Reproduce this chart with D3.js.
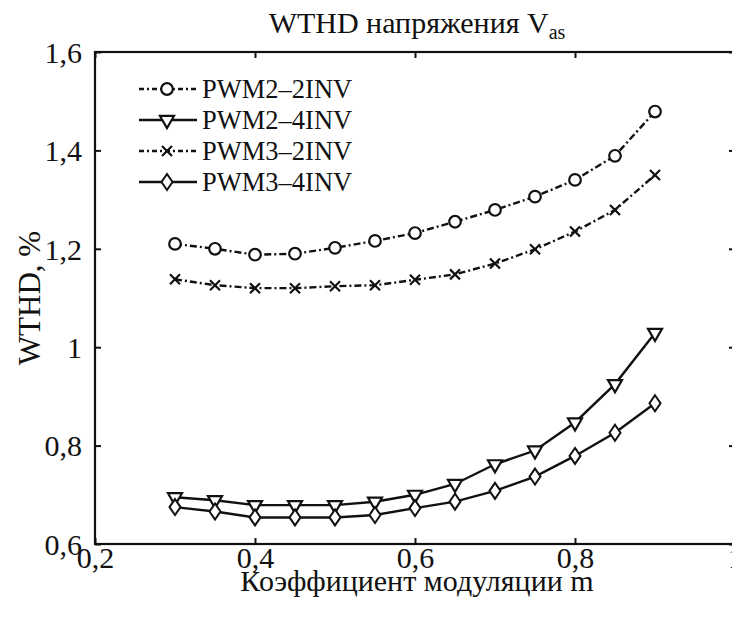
<!DOCTYPE html>
<html>
<head>
<meta charset="utf-8">
<script src="https://cdn.jsdelivr.net/npm/d3@7"></script>
<style>
  html, body { margin: 0; padding: 0; background: #fff; }
  svg { display: block; }
  svg text { font-family: 'Liberation Serif', 'DejaVu Serif', serif; fill: #111; }
</style>
</head>
<body>
<svg id="chart" width="732" height="621"></svg>
<script>
// Modulation index values (x axis)
const modulation = [0.3, 0.35, 0.4, 0.45, 0.5, 0.55, 0.6, 0.65, 0.7, 0.75, 0.8, 0.85, 0.9];

// WTHD of phase voltage, % — one array per scheme
const pwm2_2inv = [1.210, 1.200, 1.188, 1.190, 1.202, 1.216, 1.232, 1.255, 1.279, 1.306, 1.340, 1.389, 1.479];
const pwm2_4inv = [0.695, 0.689, 0.679, 0.679, 0.679, 0.686, 0.700, 0.722, 0.762, 0.790, 0.847, 0.925, 1.029];
const pwm3_2inv = [1.138, 1.126, 1.120, 1.120, 1.124, 1.126, 1.137, 1.148, 1.170, 1.199, 1.235, 1.279, 1.350];
const pwm3_4inv = [0.675, 0.666, 0.654, 0.654, 0.654, 0.659, 0.673, 0.686, 0.708, 0.737, 0.779, 0.826, 0.886];

const seriesNames = ["PWM2–2INV", "PWM2–4INV", "PWM3–2INV", "PWM3–4INV"];
const seriesValues = [pwm2_2inv, pwm2_4inv, pwm3_2inv, pwm3_4inv];
const seriesMarkers = ["circle", "triangle", "cross", "diamond"];
const seriesDashed = [true, false, true, false];

const xTicks = [0.2, 0.4, 0.6, 0.8, 1.0];
const yTicks = [0.6, 0.8, 1.0, 1.2, 1.4, 1.6];

const svg = d3.select("#chart");
const plotLeft = 95, plotRight = 735, plotTop = 52, plotBottom = 544;
const serif = "'Liberation Serif', 'DejaVu Serif', serif";

const x = d3.scaleLinear().domain([0.2, 1.0]).range([plotLeft, plotRight]);
const y = d3.scaleLinear().domain([0.6, 1.6]).range([plotBottom, plotTop]);

const fmt = v => (Math.round(v * 10) / 10).toString().replace(".", ",");

// Frame
svg.append("rect")
  .attr("x", plotLeft).attr("y", plotTop)
  .attr("width", plotRight - plotLeft).attr("height", plotBottom - plotTop)
  .attr("fill", "none").attr("stroke", "#111").attr("stroke-width", 2.2);

// Axes with inward ticks on all four sides
const tickLen = 6;
const axB = svg.append("g").attr("transform", `translate(0,${plotBottom})`)
  .call(d3.axisBottom(x).tickValues(xTicks).tickSize(-tickLen).tickPadding(3).tickFormat(fmt));
const axT = svg.append("g").attr("transform", `translate(0,${plotTop})`)
  .call(d3.axisTop(x).tickValues(xTicks).tickSize(-tickLen).tickFormat(""));
const axL = svg.append("g").attr("transform", `translate(${plotLeft},0)`)
  .call(d3.axisLeft(y).tickValues(yTicks).tickSize(-tickLen).tickPadding(13).tickFormat(fmt));
const axR = svg.append("g").attr("transform", `translate(${plotRight},0)`)
  .call(d3.axisRight(y).tickValues(yTicks).tickSize(-tickLen).tickFormat(""));

[axB, axT, axL, axR].forEach(g => {
  g.attr("font-family", serif);
  g.select(".domain").remove();
  g.selectAll(".tick line").attr("stroke", "#111").attr("stroke-width", 2);
  g.selectAll(".tick text")
    .attr("font-size", 30)
    .attr("fill", "#111");
});
axB.selectAll(".tick text").attr("dy", "0.7em");
axL.selectAll(".tick text").attr("dy", "0.34em");

// Title
const title = svg.append("text")
  .attr("x", 417).attr("y", 33)
  .attr("text-anchor", "middle")
  .attr("font-family", serif)
  .attr("font-size", 30);
title.append("tspan").text("WTHD напряжения V");
title.append("tspan").attr("font-size", 20).attr("dy", 6).text("as");

// Axis titles
svg.append("text")
  .attr("x", 417).attr("y", 591)
  .attr("text-anchor", "middle")
  .attr("font-family", serif)
  .attr("font-size", 30)
  .text("Коэффициент модуляции m");

svg.append("text")
  .attr("transform", "translate(40,298) rotate(-90)")
  .attr("text-anchor", "middle")
  .attr("font-family", serif)
  .attr("font-size", 31)
  .text("WTHD, %");

// Marker drawing
function drawMarker(g, type) {
  const s = "#111";
  if (type === "circle") {
    g.append("circle").attr("r", 5.8).attr("fill", "#fff").attr("stroke", s).attr("stroke-width", 2.2);
  } else if (type === "triangle") {
    g.append("path").attr("d", d3.symbol(d3.symbolTriangle, 85)()).attr("transform", "rotate(180)")
      .attr("fill", "#fff").attr("stroke", s).attr("stroke-width", 2.2);
  } else if (type === "cross") {
    g.append("path").attr("d", "M-5,-5L5,5M-5,5L5,-5")
      .attr("fill", "none").attr("stroke", s).attr("stroke-width", 2.2);
  } else if (type === "diamond") {
    g.append("path").attr("d", "M0,-8L5.5,0L0,8L-5.5,0Z")
      .attr("fill", "#fff").attr("stroke", s).attr("stroke-width", 2);
  }
}

const line = d3.line().x(d => x(d[0])).y(d => y(d[1]));

const plot = svg.append("g");
seriesValues.forEach((vals, i) => {
  const pts = modulation.map((m, j) => [m, vals[j]]);
  plot.append("path")
    .datum(pts)
    .attr("d", line)
    .attr("fill", "none")
    .attr("stroke", "#111")
    .attr("stroke-width", 2.4)
    .attr("stroke-dasharray", seriesDashed[i] ? "7,3,2,3" : null);
  pts.forEach(p => {
    const g = plot.append("g").attr("transform", `translate(${x(p[0])},${y(p[1])})`);
    drawMarker(g, seriesMarkers[i]);
  });
});

// Legend
const legend = svg.append("g");
const legendRows = [89, 120, 151, 182];
seriesNames.forEach((name, i) => {
  const ly = legendRows[i];
  legend.append("line")
    .attr("x1", 139).attr("x2", 197).attr("y1", ly).attr("y2", ly)
    .attr("stroke", "#111").attr("stroke-width", 2.4)
    .attr("stroke-dasharray", seriesDashed[i] ? "5,3,2,3" : null);
  const g = legend.append("g").attr("transform", `translate(167,${ly})`);
  drawMarker(g, seriesMarkers[i]);
  legend.append("text")
    .attr("x", 202).attr("y", ly + 9)
    .attr("font-family", serif)
    .attr("font-size", 26.5)
    .text(name);
});
</script>
</body>
</html>
